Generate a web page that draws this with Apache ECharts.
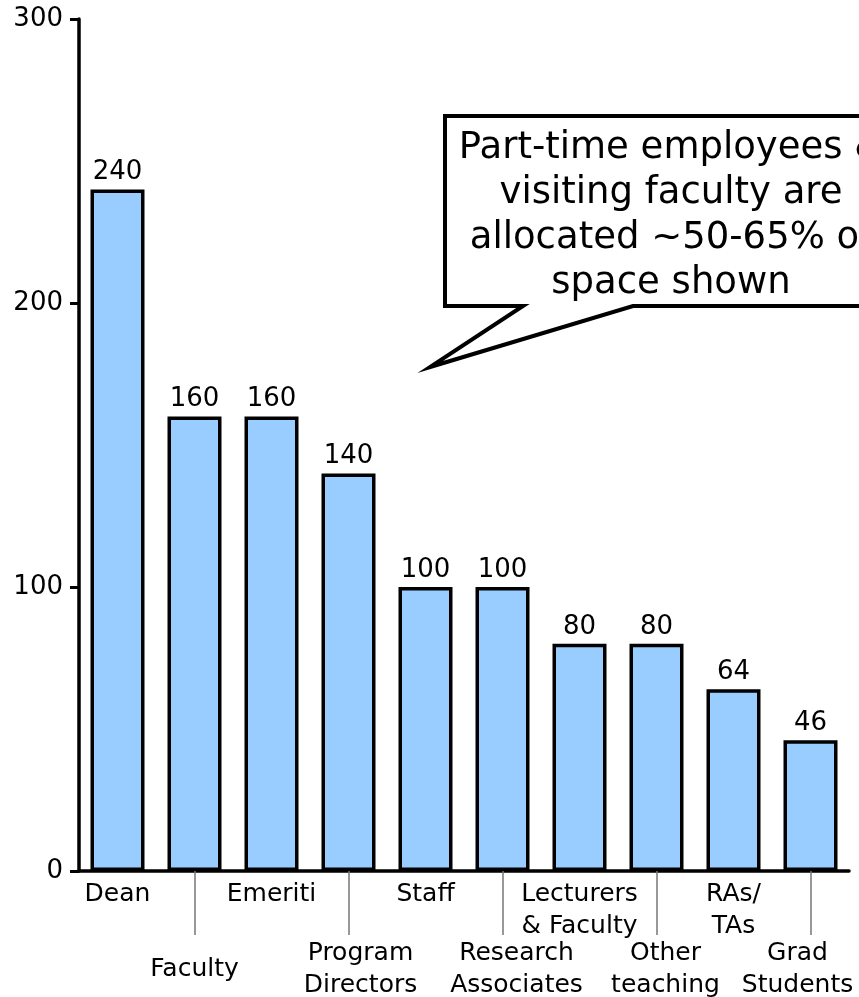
<!DOCTYPE html>
<html>
<head>
<meta charset="utf-8">
<script src="https://cdn.jsdelivr.net/npm/echarts@6/dist/echarts.min.js"></script>
<style>
  html, body { margin: 0; padding: 0; background: #fff; }
  #chart { width: 859px; height: 997px; }
</style>
</head>
<body>
<div id="chart"></div>
<script>
// 类目（带换行）
var categories = ['Dean', 'Faculty', 'Emeriti', 'Program\nDirectors', 'Staff',
  'Research\nAssociates', 'Lecturers\n& Faculty', 'Other\nteaching', 'RAs/\nTAs', 'Grad\nStudents'];
// 面积值
var areaValues = [240, 160, 160, 140, 100, 100, 80, 80, 64, 46];
var yTicks = [0, 100, 200, 300];
var calloutText = 'Part-time employees &\nvisiting faculty are\nallocated ~50-65% of\nspace shown';

var FONT = 'DejaVu Sans';
// 下排标签的水平微调（样式，不是数据）
var lowerLabelStyle = { 3: 'r12', 5: 'r14', 7: 'r9', 9: 'l13' };
var myChart = echarts.init(document.getElementById('chart'));

// 奇数位置的标签放到下面一排
function labelFormatter(value, index) {
  var st = lowerLabelStyle[index] || 't';
  var lines = value.split('\n').map(function (s) { return '{' + st + '|' + s + '}'; }).join('\n');
  if (index % 2 === 0) return lines;
  var gap = value.indexOf('\n') < 0 ? 'gap1' : 'gap2';
  return '{' + gap + '| }\n' + lines;
}

function textStyle(pad) {
  return { fontFamily: FONT, fontSize: 25, lineHeight: 32, color: '#000', padding: pad || 0 };
}

var option = {
  animation: false,
  grid: { left: 79, right: 10, top: 19, bottom: 126, outerBoundsMode: 'none', containLabel: false },
  xAxis: {
    type: 'category',
    data: categories,
    axisLine: { lineStyle: { color: '#000', width: 3.5 } },
    axisTick: {
      show: true,
      alignWithLabel: true,
      interval: function (i) { return i % 2 === 1; },
      length: 64,
      lineStyle: { color: '#777', width: 1.5 }
    },
    axisLabel: {
      interval: 0,
      margin: 7,
      color: '#000',
      fontFamily: FONT,
      fontSize: 25,
      hideOverlap: false,
      formatter: labelFormatter,
      rich: {
        t: textStyle(),
        r12: textStyle([0, 0, 0, 24]),
        r14: textStyle([0, 0, 0, 28]),
        r9: textStyle([0, 0, 0, 18]),
        l13: textStyle([0, 26, 0, 0]),
        gap1: { fontSize: 10, lineHeight: 75 },
        gap2: { fontSize: 10, lineHeight: 59 }
      }
    }
  },
  yAxis: {
    type: 'value',
    min: yTicks[0],
    max: yTicks[yTicks.length - 1],
    interval: 100,
    splitLine: { show: false },
    axisLine: { show: true, lineStyle: { color: '#000', width: 3.5 } },
    axisTick: { show: true, length: 9, lineStyle: { color: '#000', width: 3 } },
    axisLabel: { color: '#000', fontFamily: FONT, fontSize: 26, margin: 16 }
  },
  series: [{
    type: 'bar',
    data: areaValues,
    barWidth: 54,
    itemStyle: { color: '#99CCFF', borderColor: '#000', borderWidth: 3.5 },
    label: {
      show: true,
      position: 'top',
      distance: 4,
      color: '#000',
      fontFamily: FONT,
      fontSize: 26
    }
  }],
  // 对话气泡注释
  graphic: [
    {
      type: 'polygon',
      shape: { points: [[445, 116], [905, 116], [905, 306], [633, 306], [430, 367], [523, 306], [445, 306]] },
      style: { fill: '#fff', stroke: '#000', lineWidth: 4, lineJoin: 'miter' },
      z: 10
    },
    {
      type: 'text',
      x: 671,
      y: 126,
      style: {
        text: calloutText,
        align: 'center',
        verticalAlign: 'top',
        font: '37px "DejaVu Sans"',
        lineHeight: 45,
        fill: '#000'
      },
      z: 11
    }
  ]
};

myChart.setOption(option);
</script>
</body>
</html>
